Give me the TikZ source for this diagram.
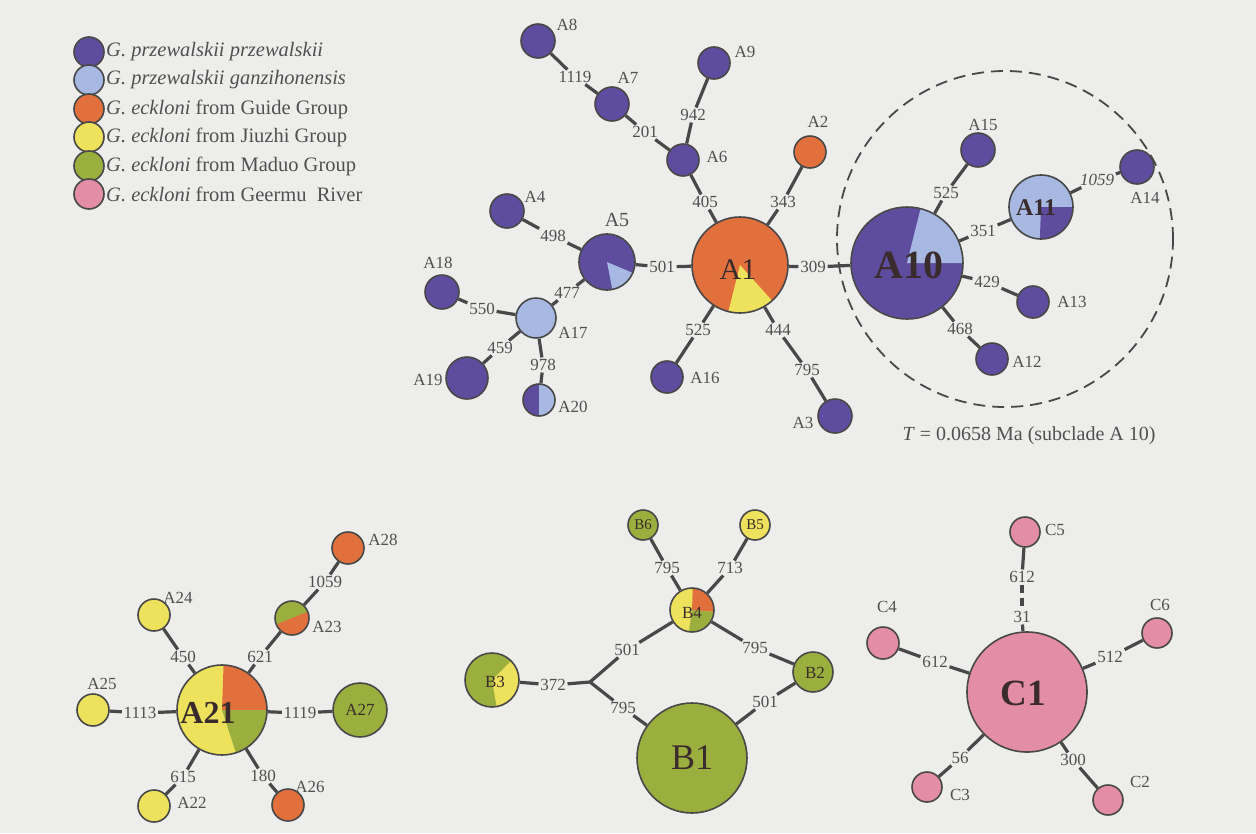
\documentclass[tikz,border=0pt]{standalone}
\usepackage{fontspec}
\setmainfont{Liberation Serif}
\definecolor{bgc}{RGB}{237,237,235}
\definecolor{pur}{RGB}{94,76,158}
\definecolor{lbl}{RGB}{167,184,226}
\definecolor{ora}{RGB}{226,112,60}
\definecolor{yel}{RGB}{238,225,92}
\definecolor{grn}{RGB}{155,175,63}
\definecolor{pnk}{RGB}{227,141,166}
\definecolor{edgec}{RGB}{72,72,72}
\definecolor{txtc}{RGB}{80,80,80}
\definecolor{dtxt}{RGB}{58,44,44}
\newcommand\pieslice[6]{\fill[#6] (#1,#2) -- ++(#4:#3pt) arc[start angle=#4, end angle=#5, radius=#3pt] -- cycle;}
\begin{document}
\begin{tikzpicture}[x=1pt,y=-1pt,
  hap/.style={circle, draw=edgec, line width=1.6pt, inner sep=0pt, minimum size=#1},
  elab/.style={font=\fontsize{17}{17}\selectfont, text=txtc, inner sep=1.6pt},
  nlab/.style={font=\fontsize{17}{17}\selectfont, text=txtc, inner sep=0pt},
  inlab/.style={font=\fontsize{#1}{#1}\selectfont, text=dtxt, inner sep=0pt},
  link/.style={draw=edgec, line width=3.2pt},
  legt/.style={font=\fontsize{20.5}{20.5}\selectfont, text=txtc, anchor=west, inner sep=0pt}]
\fill[bgc] (0,0) rectangle (1256,833);
\useasboundingbox (0,0) rectangle (1256,833);

% legend
\node[hap=30pt, fill=pur] (L1) at (89,52) {};
\node[hap=30pt, fill=lbl] (L2) at (89,80) {};
\node[hap=30pt, fill=ora] (L3) at (89,109) {};
\node[hap=30pt, fill=yel] (L4) at (89,137) {};
\node[hap=30pt, fill=grn] (L5) at (89,166) {};
\node[hap=30pt, fill=pnk] (L6) at (89,194) {};
\node[legt] (LT1) at (106,52) {\textit{G. przewalskii przewalskii}};
\node[legt] (LT2) at (106,80) {\textit{G. przewalskii ganzihonensis}};
\node[legt] (LT3) at (106,109) {\textit{G. eckloni} from Guide Group};
\node[legt] (LT4) at (106,137) {\textit{G. eckloni} from Jiuzhi Group};
\node[legt] (LT5) at (106,166) {\textit{G. eckloni} from Maduo Group};
\node[legt] (LT6) at (106,194) {\textit{G. eckloni} from Geermu\ \ River};

% dashed subclade circle
\node[circle, draw=edgec, dashed, dash pattern=on 12pt off 7pt, line width=1.8pt, minimum size=336pt, inner sep=0pt] (clade) at (1005,239) {};
\node[font=\fontsize{20}{20}\selectfont, text=txtc, inner sep=0pt] (Tlab) at (1029,436) {\textit{T} = 0.0658 Ma (subclade A 10)};

% ---------- pies ----------
\fill[ora] (740,265) circle[radius=48pt];
\pieslice{740}{265}{48}{-104}{-48}{yel}
\node[hap=96pt] (A1) at (740,265) {};
\fill[pur] (607,262) circle[radius=28pt];
\pieslice{607}{262}{28}{-79}{-23}{lbl}
\node[hap=56pt] (A5) at (607,262) {};
\fill[pur] (907,263) circle[radius=56pt];
\pieslice{907}{263}{56}{0}{76}{lbl}
\node[hap=112pt] (A10) at (907,263) {};
\fill[lbl] (1041,207) circle[radius=32pt];
\pieslice{1041}{207}{32}{-92}{0}{pur}
\node[hap=64pt] (A11) at (1041,207) {};
\fill[pur] (539,400) circle[radius=16pt];
\pieslice{539}{400}{16}{-90}{90}{lbl}
\node[hap=32pt] (A20) at (539,400) {};
\fill[ora] (292,618) circle[radius=17pt];
\pieslice{292}{618}{17}{22}{202}{grn}
\node[hap=34pt] (A23) at (292,618) {};
\fill[yel] (222,710) circle[radius=45pt];
\pieslice{222}{710}{45}{0}{88}{ora}
\pieslice{222}{710}{45}{-72}{0}{grn}
\node[hap=90pt] (A21) at (222,710) {};
\fill[yel] (692,610) circle[radius=22pt];
\pieslice{692}{610}{22}{-5}{88}{ora}
\pieslice{692}{610}{22}{-98}{-5}{grn}
\node[hap=44pt] (B4) at (692,610) {};
\fill[grn] (492,680) circle[radius=27pt];
\pieslice{492}{680}{27}{-80}{45}{yel}
\node[hap=54pt] (B3) at (492,680) {};

% ---------- plain haplotypes ----------
\node[hap=34pt, fill=pur] (A8) at (538,41) {};
\node[hap=32pt, fill=pur] (A9) at (714,63) {};
\node[hap=34pt, fill=pur] (A7) at (612,104) {};
\node[hap=32pt, fill=pur] (A6) at (683,160) {};
\node[hap=32pt, fill=ora] (A2) at (810,152) {};
\node[hap=34pt, fill=pur] (A4) at (507,211) {};
\node[hap=34pt, fill=pur] (A18) at (442,292) {};
\node[hap=40pt, fill=lbl] (A17) at (536,318) {};
\node[hap=42pt, fill=pur] (A19) at (467,378) {};
\node[hap=32pt, fill=pur] (A16) at (667,377) {};
\node[hap=34pt, fill=pur] (A3) at (835,416) {};
\node[hap=34pt, fill=pur] (A15) at (978,150) {};
\node[hap=34pt, fill=pur] (A14) at (1137,167) {};
\node[hap=32pt, fill=pur] (A13) at (1033,302) {};
\node[hap=32pt, fill=pur] (A12) at (992,359) {};
\node[hap=32pt, fill=ora] (A28) at (348,548) {};
\node[hap=32pt, fill=yel] (A24) at (154,615) {};
\node[hap=32pt, fill=yel] (A25) at (93,710) {};
\node[hap=54pt, fill=grn] (A27) at (360,710) {};
\node[hap=32pt, fill=yel] (A22) at (154,806) {};
\node[hap=32pt, fill=ora] (A26) at (288,805) {};
\node[hap=30pt, fill=grn] (B6) at (643,525) {};
\node[hap=30pt, fill=yel] (B5) at (755,525) {};
\node[hap=40pt, fill=grn] (B2) at (813,672) {};
\node[hap=110pt, fill=grn] (B1) at (692,758) {};
\node[hap=30pt, fill=pnk] (C5) at (1025,532) {};
\node[hap=32pt, fill=pnk] (C4) at (883,643) {};
\node[hap=30pt, fill=pnk] (C6) at (1157,633) {};
\node[hap=120pt, fill=pnk] (C1) at (1027,692) {};
\node[hap=30pt, fill=pnk] (C3) at (927,787) {};
\node[hap=30pt, fill=pnk] (C2) at (1108,800) {};
\coordinate (J) at (590,682);

% ---------- labels inside circles ----------
\node[inlab=30] (tA1) at (738,270) {A1};
\node[inlab=40, font=\fontsize{40}{40}\selectfont\bfseries] (tA10) at (909,265) {A10};
\node[inlab=24, font=\fontsize{24}{24}\selectfont\bfseries] (tA11) at (1036,208) {A11};
\node[inlab=32, font=\fontsize{32}{32}\selectfont\bfseries] (tA21) at (208,713) {A21};
\node[inlab=17] (tA27) at (360,710) {A27};
\node[inlab=15] (tB6) at (643,525) {B6};
\node[inlab=15] (tB5) at (755,525) {B5};
\node[inlab=17] (tB4) at (692,613) {B4};
\node[inlab=17] (tB3) at (495,682) {B3};
\node[inlab=17] (tB2) at (815,673) {B2};
\node[inlab=36] (tB1) at (692,758) {B1};
\node[inlab=37, font=\fontsize{37}{37}\selectfont\bfseries] (tC1) at (1023,693) {C1};

% ---------- labels beside circles ----------
\node[nlab] (nA8) at (567,25) {A8};
\node[nlab] (nA9) at (745,52) {A9};
\node[nlab] (nA7) at (628,78) {A7};
\node[nlab] (nA6) at (717,157) {A6};
\node[nlab] (nA2) at (818,122) {A2};
\node[nlab] (nA4) at (535,197) {A4};
\node[nlab, font=\fontsize{20}{20}\selectfont] (nA5) at (617,220) {A5};
\node[nlab] (nA18) at (438,263) {A18};
\node[nlab] (nA17) at (573,333) {A17};
\node[nlab] (nA19) at (428,380) {A19};
\node[nlab] (nA20) at (573,407) {A20};
\node[nlab] (nA16) at (705,378) {A16};
\node[nlab] (nA3) at (803,423) {A3};
\node[nlab] (nA15) at (983,125) {A15};
\node[nlab] (nA14) at (1145,198) {A14};
\node[nlab] (nA13) at (1072,302) {A13};
\node[nlab] (nA12) at (1027,362) {A12};
\node[nlab] (nA28) at (383,540) {A28};
\node[nlab] (nA23) at (327,627) {A23};
\node[nlab] (nA24) at (178,598) {A24};
\node[nlab] (nA25) at (102,684) {A25};
\node[nlab] (nA22) at (192,803) {A22};
\node[nlab] (nA26) at (310,787) {A26};
\node[nlab] (nC5) at (1055,530) {C5};
\node[nlab] (nC4) at (887,607) {C4};
\node[nlab] (nC6) at (1160,605) {C6};
\node[nlab] (nC3) at (960,795) {C3};
\node[nlab] (nC2) at (1140,782) {C2};

% ---------- edge labels ----------
\node[elab] (e1) at (575,77) {1119};
\node[elab] (e2) at (645,132) {201};
\node[elab] (e3) at (693,115) {942};
\node[elab] (e4) at (705,202) {405};
\node[elab] (e5) at (783,202) {343};
\node[elab] (e6) at (553,236) {498};
\node[elab] (e7) at (662,267) {501};
\node[elab] (e8) at (813,267) {309};
\node[elab] (e9) at (567,293) {477};
\node[elab] (e10) at (482,309) {550};
\node[elab] (e11) at (500,348) {459};
\node[elab] (e12) at (543,365) {978};
\node[elab] (e13) at (698,330) {525};
\node[elab] (e14) at (778,330) {444};
\node[elab] (e15) at (807,370) {795};
\node[elab] (e16) at (946,193) {525};
\node[elab] (e17) at (983,231) {351};
\node[elab, font=\fontsize{17}{17}\selectfont\itshape] (e18) at (1097,180) {1059};
\node[elab] (e19) at (987,282) {429};
\node[elab] (e20) at (960,329) {468};
\node[elab] (f1) at (325,582) {1059};
\node[elab] (f2) at (260,657) {621};
\node[elab] (f3) at (183,657) {450};
\node[elab] (f4) at (140,713) {1113};
\node[elab] (f5) at (300,713) {1119};
\node[elab] (f6) at (183,777) {615};
\node[elab] (f7) at (263,776) {180};
\node[elab] (g1) at (667,568) {795};
\node[elab] (g2) at (730,568) {713};
\node[elab] (g3) at (627,650) {501};
\node[elab] (g4) at (755,648) {795};
\node[elab] (g5) at (553,685) {372};
\node[elab] (g6) at (623,708) {795};
\node[elab] (g7) at (765,702) {501};
\node[elab] (h1) at (1022,577) {612};
\node[elab] (h2) at (1022,617) {31};
\node[elab] (h3) at (935,662) {612};
\node[elab] (h4) at (1110,657) {512};
\node[elab] (h5) at (960,758) {56};
\node[elab] (h6) at (1073,760) {300};

% ---------- connectors ----------
\draw[link] (A8) -- (e1); \draw[link] (e1) -- (A7);
\draw[link] (A7) -- (e2); \draw[link] (e2) -- (A6);
\draw[link] (A9) -- (e3); \draw[link] (e3) -- (A6);
\draw[link] (A6) -- (e4); \draw[link] (e4) -- (A1);
\draw[link] (A2) -- (e5); \draw[link] (e5) -- (A1);
\draw[link] (A4) -- (e6); \draw[link] (e6) -- (A5);
\draw[link] (A5) -- (e7); \draw[link] (e7) -- (A1);
\draw[link] (A1) -- (e8); \draw[link] (e8) -- (A10);
\draw[link] (A5) -- (e9); \draw[link] (e9) -- (A17);
\draw[link] (A18) -- (e10); \draw[link] (e10) -- (A17);
\draw[link] (A19) -- (e11); \draw[link] (e11) -- (A17);
\draw[link] (A20) -- (e12); \draw[link] (e12) -- (A17);
\draw[link] (A1) -- (e13); \draw[link] (e13) -- (A16);
\draw[link] (A1) -- (e14); \draw[link] (e14) -- (e15); \draw[link] (e15) -- (A3);
\draw[link] (A10) -- (e16); \draw[link] (e16) -- (A15);
\draw[link] (A10) -- (e17); \draw[link] (e17) -- (A11);
\draw[link] (A11) -- (e18); \draw[link] (e18) -- (A14);
\draw[link] (A10) -- (e19); \draw[link] (e19) -- (A13);
\draw[link] (A10) -- (e20); \draw[link] (e20) -- (A12);
\draw[link] (A28) -- (f1); \draw[link] (f1) -- (A23);
\draw[link] (A23) -- (f2); \draw[link] (f2) -- (A21);
\draw[link] (A24) -- (f3); \draw[link] (f3) -- (A21);
\draw[link] (A25) -- (f4); \draw[link] (f4) -- (A21);
\draw[link] (A21) -- (f5); \draw[link] (f5) -- (A27);
\draw[link] (A22) -- (f6); \draw[link] (f6) -- (A21);
\draw[link] (A26) -- (f7); \draw[link] (f7) -- (A21);
\draw[link] (B6) -- (g1); \draw[link] (g1) -- (B4);
\draw[link] (B5) -- (g2); \draw[link] (g2) -- (B4);
\draw[link] (B4) -- (g3); \draw[link] (g3) -- (J);
\draw[link] (B4) -- (g4); \draw[link] (g4) -- (B2);
\draw[link] (B3) -- (g5); \draw[link] (g5) -- (J);
\draw[link] (J) -- (g6); \draw[link] (g6) -- (B1);
\draw[link] (B2) -- (g7); \draw[link] (g7) -- (B1);
\draw[link] (C5) -- (h1); \draw[link, dash pattern=on 8pt off 5pt] (h1) -- (h2); \draw[link] (h2) -- (C1);
\draw[link] (C4) -- (h3); \draw[link] (h3) -- (C1);
\draw[link] (C6) -- (h4); \draw[link] (h4) -- (C1);
\draw[link] (C3) -- (h5); \draw[link] (h5) -- (C1);
\draw[link] (C2) -- (h6); \draw[link] (h6) -- (C1);
\end{tikzpicture}
\end{document}
